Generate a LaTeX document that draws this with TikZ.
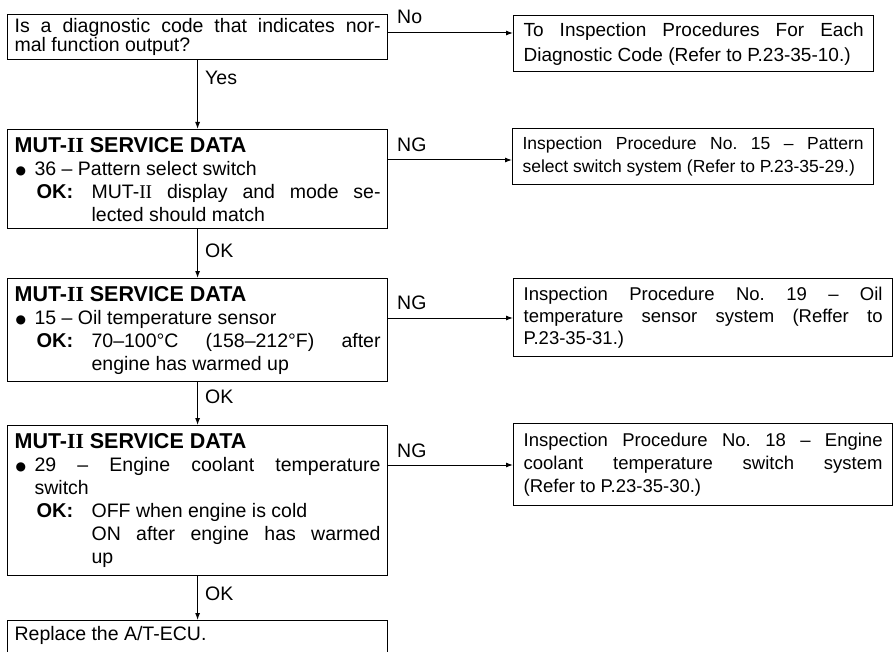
\documentclass[tikz,border=0pt]{standalone}
\usepackage{fontspec}
\setmainfont{Liberation Sans}
\newfontfamily\romfont{Liberation Serif}
\newfontfamily\symfont{DejaVu Sans}
\usetikzlibrary{arrows.meta}
\frenchspacing
\newcommand{\rII}{{\romfont II}}
\newcommand{\hdr}{{\fontsize{21.5}{23}\selectfont\bfseries MUT-\rII\ SERVICE DATA}}
\newcommand{\bulmark}{\makebox[20pt][l]{\hspace{1pt}\raisebox{1pt}{\symfont\fontsize{12}{12}\selectfont ●}}}
\newcommand{\okmark}{\makebox[55pt][l]{\fontsize{20}{23}\selectfont\bfseries OK:}}
\begin{document}
\begin{tikzpicture}[x=1pt,y=-1pt,
  lbox/.style={draw,line width=1.2pt,anchor=north west,inner xsep=7pt,inner ysep=0pt,
    text width=366pt,align=justify,font=\fontsize{19.5}{23}\selectfont},
  rbox/.style={draw,line width=1.2pt,anchor=north west,inner xsep=10pt,inner ysep=0pt,align=justify},
  lab/.style={anchor=base west,inner sep=0pt,font=\fontsize{19.5}{23}\selectfont},
  conn/.style={line width=1pt,-{Latex[length=7pt,width=5pt]}}]
\useasboundingbox (0,0) rectangle (896,652);

% left column
\node[lbox,minimum height=45pt,font=\fontsize{19.5}{19}\selectfont] (q) at (7,14)
  {\noindent Is a diagnostic code that indicates nor-\linebreak mal function output?};

\node[lbox,minimum height=99pt] (s1) at (7,129)
  {\noindent\hdr\par
   \leftskip=20pt\noindent\llap{\bulmark}36 – Pattern select switch\par
   \leftskip=77pt\noindent\llap{\okmark}MUT-\rII\ display and mode se-\linebreak lected should match\par};

\node[lbox,minimum height=103pt] (s2) at (7,278)
  {\noindent\hdr\par
   \leftskip=20pt\noindent\llap{\bulmark}15 – Oil temperature sensor\par
   \leftskip=77pt\noindent\llap{\okmark}70–100°C (158–212°F) after\linebreak engine has warmed up\par};

\node[lbox,minimum height=150pt] (s3) at (7,425)
  {\noindent\hdr\par
   \leftskip=20pt\noindent\llap{\bulmark}29 – Engine coolant temperature\linebreak switch\par
   \leftskip=77pt\noindent\llap{\okmark}OFF when engine is cold\newline ON after engine has warmed\linebreak up\par};

\node[lbox,text height=20pt,text depth=20pt] (fin) at (7,620)
  {\noindent Replace the A/T-ECU.};

% right column
\node[rbox,text width=340pt,minimum height=56pt,font=\fontsize{19}{25}\selectfont] (r1) at (513,15)
  {\parfillskip=0pt\noindent To Inspection Procedures For Each\linebreak Diagnostic Code (Refer to P.23-35-10.)};

\node[rbox,text width=341pt,minimum height=56pt,font=\fontsize{17.5}{23}\selectfont] (r2) at (512,128)
  {\parfillskip=0pt\noindent Inspection Procedure No. 15 – Pattern\linebreak select switch system (Refer to P.23-35-29.)};

\node[rbox,text width=359pt,minimum height=78pt,font=\fontsize{18.5}{22}\selectfont] (r3) at (513,278)
  {\noindent Inspection Procedure No. 19 – Oil\linebreak temperature sensor system (Reffer to\linebreak P.23-35-31.)};

\node[rbox,text width=359pt,minimum height=82pt,font=\fontsize{18.5}{23}\selectfont] (r4) at (513,423)
  {\noindent Inspection Procedure No. 18 – Engine\linebreak coolant temperature switch system\linebreak (Refer to P.23-35-30.)};

% vertical connectors
\draw[conn] (q.south) -- (s1.north);
\draw[conn] (s1.south) -- (s2.north);
\draw[conn] (s2.south) -- (s3.north);
\draw[conn] (s3.south) -- (fin.north);

% horizontal connectors
\draw[conn] (q.east |- 0,33) -- (r1.west |- 0,33);
\draw[conn] (s1.east |- 0,160) -- (r2.west |- 0,160);
\draw[conn] (s2.east |- 0,318) -- (r3.west |- 0,318);
\draw[conn] (s3.east |- 0,465) -- (r4.west |- 0,465);

% labels
\node[lab] (lno) at (397,24) {No};
\node[lab] (lng1) at (397,152) {NG};
\node[lab] (lng2) at (397,309) {NG};
\node[lab] (lng3) at (397,457) {NG};
\node[lab] (lyes) at (205,85) {Yes};
\node[lab] (lok1) at (205,258) {OK};
\node[lab] (lok2) at (205,403) {OK};
\node[lab] (lok3) at (205,600) {OK};
\end{tikzpicture}
\end{document}
